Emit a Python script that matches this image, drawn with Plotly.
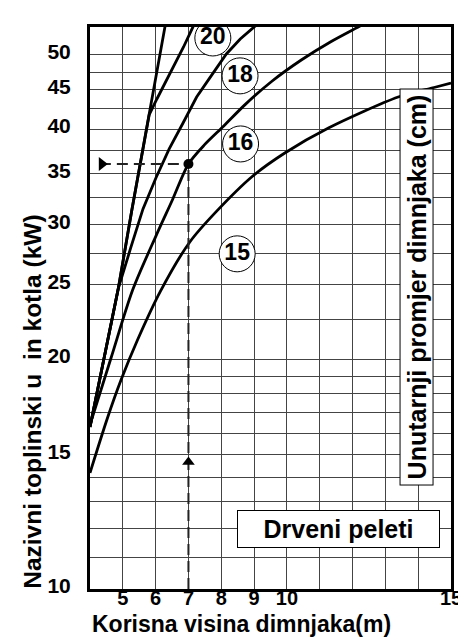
import plotly.graph_objects as go
import math

# ---------------- data ----------------
# chimney height (m) / boiler power (kW)
steep_x = [4.0, 4.865, 5.270, 5.624, 6.333]
steep_y = [16.3, 24.77, 31.25, 38.01, 55.9]

d20_x = [4.0, 4.865, 5.270, 5.624, 5.802, 6.038, 6.304, 6.569, 6.850, 7.131, 7.269]
d20_y = [16.3, 24.77, 31.25, 38.01, 41.73, 43.79, 46.09, 48.52, 51.22, 54.35, 55.9]

d18_x = [4.0, 4.865, 5.240, 5.615, 6.008, 6.413, 6.835, 7.249, 7.692, 8.155, 8.578, 9.030, 9.316]
d18_y = [16.3, 24.77, 27.95, 31.44, 34.51, 37.67, 40.73, 44.05, 46.95, 50.15, 52.47, 54.51, 55.9]

d16_x = [4.0, 4.650, 5.299, 6.008, 6.510, 7.0, 7.485, 8.076, 8.725, 9.552, 10.438, 11.324, 12.210, 12.683]
d16_y = [16.4, 20.12, 24.62, 28.97, 32.30, 36.0, 38.13, 40.37, 43.05, 46.23, 49.25, 52.00, 54.51, 55.9]

d15_x = [4.0, 4.532, 4.945, 5.447, 6.156, 7.042, 7.839, 8.961, 9.936, 11.265, 13.391, 14.484, 15.0]
d15_y = [14.19, 16.74, 18.77, 21.18, 24.58, 28.46, 31.16, 34.72, 37.21, 40.12, 44.05, 45.33, 45.95]

label_text = ["20", "18", "16", "15"]
label_x = [7.743, 8.572, 8.588, 8.484]
label_y = [52.63, 46.95, 38.24, 27.46]

ref_height = 7.0
ref_power = 36.0

x_tickvals = [5, 6, 7, 8, 9, 10, 11, 12, 13, 14, 15]
x_ticktext = ["5", "6", "7", "8", "9", "10", "", "", "", "", "15"]
y_tickvals = [10, 11, 12, 13, 14, 15, 16, 17, 18, 19, 20, 22.5, 25, 27.5,
              30, 32.5, 35, 37.5, 40, 42.5, 45, 47.5, 50]
y_ticktext = ["10", "", "", "", "", "15", "", "", "", "", "20", "", "25", "",
              "30", "", "35", "", "40", "", "45", "", "50"]

x_title = "Korisna visina dimnjaka(m)"
y_title = "Nazivni toplinski u\u00a0 in kotla (kW)"
side_title = "Unutarnji promjer dimnjaka (cm)"
fuel_title = "Drveni peleti"

FONT = "Liberation Sans, Arial, sans-serif"

fig = go.Figure()

for xs, ys, shape in [(steep_x, steep_y, "linear"), (d20_x, d20_y, "linear"),
                      (d18_x, d18_y, "linear"), (d16_x, d16_y, "spline"),
                      (d15_x, d15_y, "spline")]:
    fig.add_trace(go.Scatter(x=xs, y=ys, mode="lines",
                             line=dict(color="black", width=2.8, shape=shape, smoothing=0.8),
                             hoverinfo="skip", showlegend=False))

# reference dashed lines
dash_style = dict(color="#222", width=2, dash="11px,6px")
fig.add_trace(go.Scatter(x=[4.3, ref_height], y=[ref_power, ref_power], mode="lines",
                         line=dash_style, showlegend=False, hoverinfo="skip"))
fig.add_trace(go.Scatter(x=[ref_height, ref_height], y=[10, ref_power], mode="lines",
                         line=dash_style, showlegend=False, hoverinfo="skip"))
fig.add_trace(go.Scatter(x=[4.36], y=[ref_power], mode="markers",
                         marker=dict(symbol="triangle-right", size=12, color="black"),
                         showlegend=False, hoverinfo="skip"))
fig.add_trace(go.Scatter(x=[ref_height], y=[14.66], mode="markers",
                         marker=dict(symbol="triangle-up", size=11, color="black"),
                         showlegend=False, hoverinfo="skip"))
fig.add_trace(go.Scatter(x=[ref_height], y=[ref_power], mode="markers",
                         marker=dict(symbol="circle", size=10, color="black"),
                         showlegend=False, hoverinfo="skip"))

# circled diameter labels
fig.add_trace(go.Scatter(x=label_x, y=label_y, mode="markers+text",
                         text=label_text, textposition="middle center",
                         textfont=dict(family=FONT, size=23, color="black", weight="bold"),
                         marker=dict(symbol="circle", size=36, color="white",
                                     line=dict(color="black", width=1)),
                         showlegend=False, hoverinfo="skip"))

fig.update_xaxes(range=[4, 15], tickvals=x_tickvals, ticktext=x_ticktext,
                 showgrid=True, gridcolor="#444", gridwidth=1,
                 showline=True, linewidth=3, linecolor="black", mirror=True,
                 ticks="", ticklabelstandoff=-11,
                 tickfont=dict(family=FONT, size=20, color="black", weight="bold"))
fig.update_yaxes(type="log", range=[1, math.log10(54.4)], tickvals=y_tickvals,
                 ticktext=y_ticktext,
                 showgrid=True, gridcolor="#444", gridwidth=1,
                 showline=True, linewidth=3, linecolor="black", mirror=True,
                 ticks="", ticklabelstandoff=12, ticklabelshift=-3,
                 tickfont=dict(family=FONT, size=21, color="black", weight="bold"))

fig.update_layout(
    width=466, height=638, autosize=False,
    margin=dict(l=82, r=12, t=19, b=57),
    paper_bgcolor="white", plot_bgcolor="white",
    annotations=[
        dict(text=y_title, xref="paper", yref="paper", x=-0.160, y=0.3336,
             textangle=-90, showarrow=False, xanchor="center", yanchor="middle",
             font=dict(family=FONT, size=24.5, color="black", weight="bold")),
        dict(text=x_title, xref="paper", yref="paper", x=0.4194, y=-0.063,
             showarrow=False, xanchor="center", yanchor="middle",
             font=dict(family=FONT, size=23, color="black", weight="bold")),
        dict(text=side_title, xref="paper", yref="paper", x=0.9059, y=0.5365,
             textangle=-90, showarrow=False, xanchor="center", yanchor="middle",
             width=395, height=32, bgcolor="white", bordercolor="black",
             borderwidth=1, borderpad=0,
             font=dict(family=FONT, size=25, color="black", weight="bold")),
        dict(text=fuel_title, xref="paper", yref="paper", x=0.689, y=0.1071,
             showarrow=False, xanchor="center", yanchor="middle",
             width=201, height=36, bgcolor="white", bordercolor="black",
             borderwidth=1, borderpad=0,
             font=dict(family=FONT, size=25, color="black", weight="bold")),
    ],
)

fig.write_html("out.html")
